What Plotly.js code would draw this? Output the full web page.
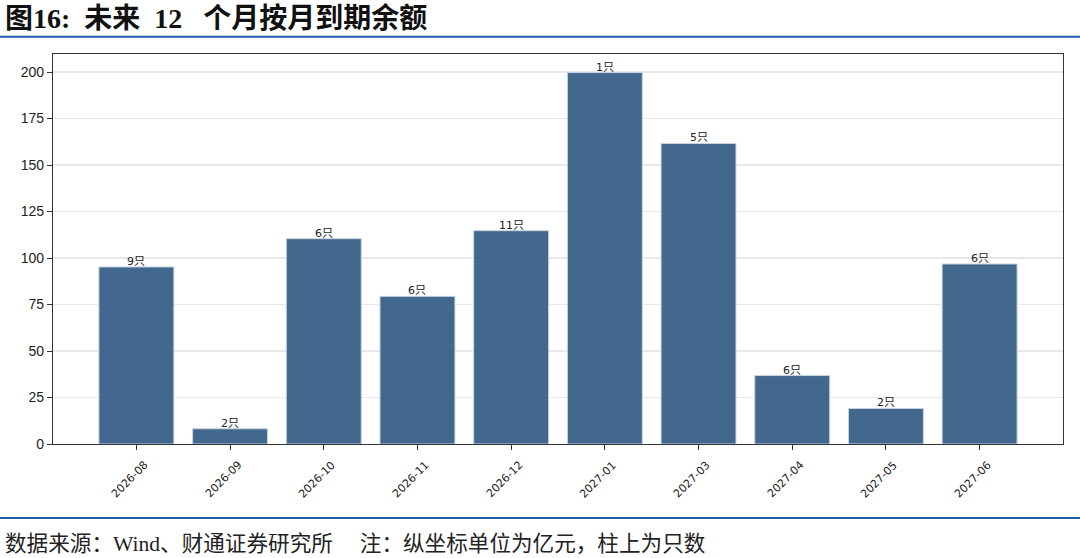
<!DOCTYPE html>
<html>
<head>
<meta charset="utf-8">
<script src="https://cdn.plot.ly/plotly-3.0.1.min.js"></script>
<style>
html,body{margin:0;padding:0;background:#fff;}
#chart{width:1080px;height:558px;}
</style>
</head>
<body>
<div id="chart"></div>
<script>
var categories = ["2026-08","2026-09","2026-10","2026-11","2026-12","2027-01","2027-03","2027-04","2027-05","2027-06"];
var amounts = [95.2, 8.2, 110.4, 79.4, 114.7, 199.7, 161.6, 36.8, 19.1, 96.8];
var counts = [9, 2, 6, 6, 11, 1, 5, 6, 2, 6];
var yTicks = [0, 25, 50, 75, 100, 125, 150, 175, 200];
var titleText = "图16:\u2002未来\u200212\u2002 个月按月到期余额";
var footerText = "数据来源：Wind、财通证券研究所　 注：纵坐标单位为亿元，柱上为只数";

var L = 53.3, R = 1063, T = 54, B = 444.3;
var W = R - L, H = B - T;
function px(x){ return (x - L) / W; }
function py(y){ return (B - y) / H; }

var idx = categories.map(function(c, i){ return i; });

var trace = {
  type: 'bar',
  x: idx,
  y: amounts,
  width: 0.8,
  marker: {color: 'rgba(55,95,135,0.94)', line: {color: 'rgba(200,212,228,1)', width: 1}},
  hoverinfo: 'skip'
};

var annotations = [];
counts.forEach(function(c, i){
  annotations.push({
    x: i, y: amounts[i], xref: 'x', yref: 'y',
    text: c + '只', showarrow: false, yanchor: 'bottom', yshift: -3,
    font: {family: 'DejaVu Sans, Noto Sans CJK SC', size: 11, color: '#222'}
  });
});
categories.forEach(function(c, i){
  annotations.push({
    x: i - 0.07, y: 0, xref: 'x', yref: 'paper',
    text: c, showarrow: false, textangle: -45, xanchor: 'center', yanchor: 'top', yshift: -12,
    font: {family: 'DejaVu Sans, Liberation Sans', size: 11, color: '#222'}
  });
});
annotations.push({
  x: px(3), y: py(18), xref: 'paper', yref: 'paper', xanchor: 'left', yanchor: 'middle',
  text: '<b>' + titleText + '</b>', showarrow: false,
  font: {family: 'Liberation Serif, Noto Sans CJK SC', size: 28, color: '#111'}
});
annotations.push({
  x: px(3), y: py(544), xref: 'paper', yref: 'paper', xanchor: 'left', yanchor: 'middle',
  text: footerText, showarrow: false,
  font: {family: 'Liberation Serif, Noto Sans CJK SC', size: 21.6, color: '#222'}
});

var layout = {
  width: 1080, height: 558,
  margin: {l: L, r: 1080 - R, t: T, b: 558 - B, pad: 0},
  paper_bgcolor: '#fff', plot_bgcolor: '#fff',
  showlegend: false,
  bargap: 0.2,
  xaxis: {
    range: [-0.89, 9.89], tickvals: idx, showticklabels: false,
    ticks: 'outside', ticklen: 5, tickcolor: '#333', tickwidth: 1,
    showline: true, linecolor: '#333', linewidth: 1.2, mirror: true,
    showgrid: false, zeroline: false, fixedrange: true
  },
  yaxis: {
    range: [0, 209.7], tickvals: yTicks, ticktext: yTicks.map(String),
    ticks: 'outside', ticklen: 5, tickcolor: '#333', tickwidth: 1,
    tickfont: {family: 'Liberation Sans, Arial', size: 14, color: '#222'},
    showline: true, linecolor: '#333', linewidth: 1.2, mirror: true,
    showgrid: true, gridcolor: '#e8e8e8', gridwidth: 1.2, zeroline: false, fixedrange: true
  },
  shapes: [
    {type: 'line', xref: 'paper', yref: 'paper', x0: px(0), x1: px(1080), y0: py(36.8), y1: py(36.8), line: {color: '#1f5dab', width: 2}},
    {type: 'line', xref: 'paper', yref: 'paper', x0: px(0), x1: px(1080), y0: py(518.3), y1: py(518.3), line: {color: '#1f5dab', width: 2}}
  ],
  annotations: annotations
};

Plotly.newPlot('chart', [trace], layout, {displayModeBar: false, staticPlot: true});
</script>
</body>
</html>
